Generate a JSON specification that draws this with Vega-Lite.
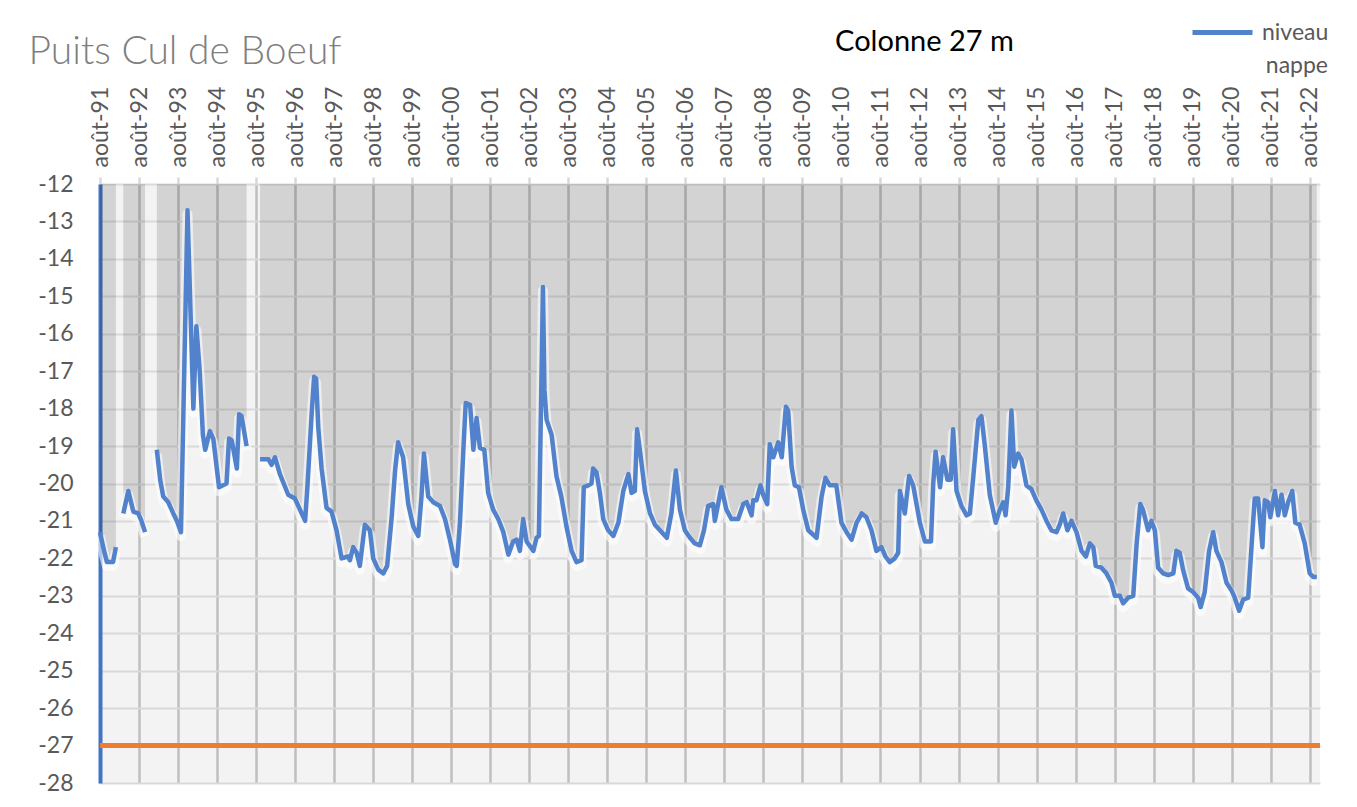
{
  "$schema": "https://vega.github.io/schema/vega-lite/v6.json",
  "width": 1220,
  "height": 599,
  "autosize": "none",
  "padding": {"left": 100, "top": 184, "right": 37, "bottom": 24},
  "background": "white",
  "config": {"view": {"fill": "#f3f3f3", "stroke": null}, "font": "Lato"},
  "data": {"values": [
    {"d": "1991-08-01", "v": -21.3}, {"d": "1991-09-08", "v": -21.8}, {"d": "1991-10-05", "v": -22.1}, {"d": "1991-12-01", "v": -22.1}, {"d": "1991-12-28", "v": -21.7},
    {"d": "1992-01-20", "v": null},
    {"d": "1992-03-06", "v": -20.8}, {"d": "1992-04-22", "v": -20.2}, {"d": "1992-06-08", "v": -20.75}, {"d": "1992-07-24", "v": -20.8}, {"d": "1992-08-23", "v": -21.0}, {"d": "1992-09-26", "v": -21.3},
    {"d": "1992-10-25", "v": null},
    {"d": "1993-01-14", "v": -19.1}, {"d": "1993-02-14", "v": -19.9}, {"d": "1993-03-15", "v": -20.35}, {"d": "1993-05-01", "v": -20.5}, {"d": "1993-06-17", "v": -20.8}, {"d": "1993-07-21", "v": -21.0}, {"d": "1993-08-28", "v": -21.3},
    {"d": "1993-10-28", "v": -12.7}, {"d": "1993-12-22", "v": -18.0}, {"d": "1994-01-19", "v": -15.8}, {"d": "1994-02-19", "v": -17.0}, {"d": "1994-03-21", "v": -18.7}, {"d": "1994-04-12", "v": -19.1},
    {"d": "1994-05-26", "v": -18.6}, {"d": "1994-06-26", "v": -18.8}, {"d": "1994-08-19", "v": -20.1}, {"d": "1994-10-28", "v": -20.0}, {"d": "1994-11-21", "v": -18.8}, {"d": "1994-12-16", "v": -18.85},
    {"d": "1995-02-02", "v": -19.6}, {"d": "1995-02-23", "v": -18.15}, {"d": "1995-03-18", "v": -18.2}, {"d": "1995-05-04", "v": -19.0},
    {"d": "1995-06-20", "v": null},
    {"d": "1995-09-07", "v": -19.35}, {"d": "1995-11-23", "v": -19.35}, {"d": "1995-12-24", "v": -19.5}, {"d": "1996-01-25", "v": -19.3}, {"d": "1996-03-11", "v": -19.75}, {"d": "1996-05-28", "v": -20.3},
    {"d": "1996-07-29", "v": -20.4}, {"d": "1996-09-15", "v": -20.7}, {"d": "1996-11-02", "v": -21.0}, {"d": "1996-11-23", "v": -20.1}, {"d": "1997-01-03", "v": -18.1}, {"d": "1997-01-25", "v": -17.15},
    {"d": "1997-02-13", "v": -17.2}, {"d": "1997-03-05", "v": -18.5}, {"d": "1997-04-05", "v": -19.6}, {"d": "1997-05-21", "v": -20.65}, {"d": "1997-07-07", "v": -20.75}, {"d": "1997-08-23", "v": -21.25},
    {"d": "1997-10-09", "v": -22.0}, {"d": "1997-12-10", "v": -21.95}, {"d": "1997-12-26", "v": -22.05}, {"d": "1998-01-26", "v": -21.7}, {"d": "1998-02-27", "v": -21.85}, {"d": "1998-03-29", "v": -22.2},
    {"d": "1998-05-15", "v": -21.1}, {"d": "1998-07-01", "v": -21.25}, {"d": "1998-08-01", "v": -22.0}, {"d": "1998-09-18", "v": -22.3}, {"d": "1998-11-04", "v": -22.4}, {"d": "1998-12-10", "v": -22.2},
    {"d": "1999-01-21", "v": -20.9}, {"d": "1999-02-22", "v": -19.65}, {"d": "1999-03-22", "v": -18.9}, {"d": "1999-05-08", "v": -19.3}, {"d": "1999-06-25", "v": -20.55}, {"d": "1999-08-11", "v": -21.15},
    {"d": "1999-09-27", "v": -21.4}, {"d": "1999-10-27", "v": -20.35}, {"d": "1999-11-19", "v": -19.2}, {"d": "1999-12-29", "v": -20.35}, {"d": "2000-02-15", "v": -20.5}, {"d": "2000-04-17", "v": -20.6},
    {"d": "2000-06-03", "v": -20.95}, {"d": "2000-07-19", "v": -21.5}, {"d": "2000-09-05", "v": -22.15}, {"d": "2000-09-21", "v": -22.2}, {"d": "2000-10-21", "v": -21.05}, {"d": "2000-11-22", "v": -19.1},
    {"d": "2000-12-14", "v": -17.85}, {"d": "2001-01-24", "v": -17.9}, {"d": "2001-02-24", "v": -19.1}, {"d": "2001-03-26", "v": -18.25}, {"d": "2001-04-26", "v": -19.05}, {"d": "2001-06-06", "v": -19.1},
    {"d": "2001-07-12", "v": -20.25}, {"d": "2001-08-28", "v": -20.7}, {"d": "2001-10-15", "v": -20.95}, {"d": "2001-12-01", "v": -21.3}, {"d": "2002-01-17", "v": -21.9}, {"d": "2002-03-03", "v": -21.55},
    {"d": "2002-04-04", "v": -21.5}, {"d": "2002-05-05", "v": -21.8}, {"d": "2002-06-05", "v": -20.95}, {"d": "2002-07-07", "v": -21.55}, {"d": "2002-09-08", "v": -21.8}, {"d": "2002-10-08", "v": -21.45},
    {"d": "2002-10-30", "v": -21.4}, {"d": "2002-12-07", "v": -14.75}, {"d": "2002-12-21", "v": -17.5}, {"d": "2003-01-10", "v": -18.3}, {"d": "2003-02-26", "v": -18.7}, {"d": "2003-04-12", "v": -19.8},
    {"d": "2003-05-28", "v": -20.35}, {"d": "2003-07-15", "v": -21.15}, {"d": "2003-09-01", "v": -21.8}, {"d": "2003-10-17", "v": -22.1}, {"d": "2003-12-03", "v": -22.05}, {"d": "2003-12-24", "v": -20.1},
    {"d": "2004-02-04", "v": -20.05}, {"d": "2004-03-05", "v": -20.0}, {"d": "2004-03-20", "v": -19.6}, {"d": "2004-04-21", "v": -19.7}, {"d": "2004-05-23", "v": -20.25}, {"d": "2004-06-23", "v": -20.95},
    {"d": "2004-08-09", "v": -21.25}, {"d": "2004-09-26", "v": -21.4}, {"d": "2004-11-12", "v": -21.05}, {"d": "2004-12-28", "v": -20.2}, {"d": "2005-02-14", "v": -19.75}, {"d": "2005-03-15", "v": -20.25},
    {"d": "2005-04-15", "v": -20.2}, {"d": "2005-05-06", "v": -18.55}, {"d": "2005-06-01", "v": -19.1}, {"d": "2005-07-18", "v": -20.2}, {"d": "2005-09-04", "v": -20.8}, {"d": "2005-10-20", "v": -21.1},
    {"d": "2005-12-06", "v": -21.25}, {"d": "2006-02-08", "v": -21.45}, {"d": "2006-03-23", "v": -20.8}, {"d": "2006-05-04", "v": -19.65}, {"d": "2006-06-11", "v": -20.7}, {"d": "2006-07-27", "v": -21.25},
    {"d": "2006-09-13", "v": -21.45}, {"d": "2006-10-29", "v": -21.6}, {"d": "2006-12-15", "v": -21.65}, {"d": "2007-01-22", "v": -21.25}, {"d": "2007-03-02", "v": -20.6}, {"d": "2007-04-18", "v": -20.55},
    {"d": "2007-05-04", "v": -21.0}, {"d": "2007-07-04", "v": -20.1}, {"d": "2007-08-20", "v": -20.7}, {"d": "2007-10-07", "v": -20.95}, {"d": "2007-12-08", "v": -20.95}, {"d": "2008-01-25", "v": -20.55},
    {"d": "2008-02-26", "v": -20.5}, {"d": "2008-04-12", "v": -20.85}, {"d": "2008-04-27", "v": -20.45}, {"d": "2008-05-27", "v": -20.45}, {"d": "2008-07-04", "v": -20.05}, {"d": "2008-07-29", "v": -20.3},
    {"d": "2008-09-05", "v": -20.55}, {"d": "2008-09-29", "v": -18.95}, {"d": "2008-11-01", "v": -19.3}, {"d": "2008-12-17", "v": -18.9}, {"d": "2009-01-19", "v": -19.3}, {"d": "2009-02-27", "v": -17.95},
    {"d": "2009-03-20", "v": -18.05}, {"d": "2009-04-21", "v": -19.55}, {"d": "2009-05-21", "v": -20.05}, {"d": "2009-06-29", "v": -20.1}, {"d": "2009-08-08", "v": -20.7}, {"d": "2009-09-24", "v": -21.25},
    {"d": "2009-12-11", "v": -21.45}, {"d": "2010-01-27", "v": -20.35}, {"d": "2010-03-04", "v": -19.85}, {"d": "2010-04-14", "v": -20.05}, {"d": "2010-06-14", "v": -20.05}, {"d": "2010-08-01", "v": -21.05},
    {"d": "2010-09-18", "v": -21.3}, {"d": "2010-11-04", "v": -21.5}, {"d": "2010-12-20", "v": -21.05}, {"d": "2011-02-07", "v": -20.8}, {"d": "2011-03-23", "v": -20.9}, {"d": "2011-05-09", "v": -21.25},
    {"d": "2011-06-24", "v": -21.8}, {"d": "2011-08-10", "v": -21.7}, {"d": "2011-09-17", "v": -21.95}, {"d": "2011-10-27", "v": -22.1}, {"d": "2011-12-13", "v": -22.0}, {"d": "2012-01-14", "v": -21.85},
    {"d": "2012-01-30", "v": -20.2}, {"d": "2012-03-16", "v": -20.8}, {"d": "2012-04-25", "v": -19.8}, {"d": "2012-06-02", "v": -20.05}, {"d": "2012-08-04", "v": -21.05}, {"d": "2012-09-20", "v": -21.55},
    {"d": "2012-11-16", "v": -21.55}, {"d": "2012-12-07", "v": -20.0}, {"d": "2012-12-29", "v": -19.15}, {"d": "2013-02-09", "v": -20.1}, {"d": "2013-03-09", "v": -19.3}, {"d": "2013-04-19", "v": -19.9},
    {"d": "2013-05-20", "v": -19.9}, {"d": "2013-06-11", "v": -18.55}, {"d": "2013-07-13", "v": -20.2}, {"d": "2013-08-28", "v": -20.6}, {"d": "2013-10-15", "v": -20.85}, {"d": "2013-11-15", "v": -20.8},
    {"d": "2013-12-16", "v": -19.85}, {"d": "2014-02-02", "v": -18.3}, {"d": "2014-03-03", "v": -18.2}, {"d": "2014-04-04", "v": -19.0}, {"d": "2014-05-20", "v": -20.3}, {"d": "2014-07-15", "v": -21.05},
    {"d": "2014-08-22", "v": -20.7}, {"d": "2014-09-23", "v": -20.5}, {"d": "2014-10-15", "v": -20.85}, {"d": "2014-11-09", "v": -20.1}, {"d": "2014-12-09", "v": -18.05}, {"d": "2015-01-04", "v": -19.55},
    {"d": "2015-02-10", "v": -19.2}, {"d": "2015-03-12", "v": -19.35}, {"d": "2015-04-28", "v": -20.05}, {"d": "2015-06-14", "v": -20.15}, {"d": "2015-07-30", "v": -20.45}, {"d": "2015-09-16", "v": -20.7},
    {"d": "2015-11-02", "v": -21.0}, {"d": "2015-12-18", "v": -21.25}, {"d": "2016-02-04", "v": -21.3}, {"d": "2016-03-05", "v": -21.1}, {"d": "2016-04-06", "v": -20.8}, {"d": "2016-05-16", "v": -21.25},
    {"d": "2016-06-23", "v": -21.0}, {"d": "2016-08-09", "v": -21.3}, {"d": "2016-09-25", "v": -21.8}, {"d": "2016-11-05", "v": -21.95}, {"d": "2016-12-12", "v": -21.6}, {"d": "2017-01-13", "v": -21.7},
    {"d": "2017-02-05", "v": -22.2}, {"d": "2017-03-30", "v": -22.25}, {"d": "2017-05-16", "v": -22.4}, {"d": "2017-07-02", "v": -22.65}, {"d": "2017-08-03", "v": -23.0}, {"d": "2017-09-19", "v": -23.0},
    {"d": "2017-10-20", "v": -23.2}, {"d": "2017-12-05", "v": -23.05}, {"d": "2018-01-22", "v": -23.0}, {"d": "2018-02-23", "v": -21.6}, {"d": "2018-03-29", "v": -20.55}, {"d": "2018-04-23", "v": -20.7},
    {"d": "2018-06-10", "v": -21.25}, {"d": "2018-07-11", "v": -21.0}, {"d": "2018-08-12", "v": -21.25}, {"d": "2018-09-12", "v": -22.25}, {"d": "2018-10-28", "v": -22.4}, {"d": "2018-12-15", "v": -22.45},
    {"d": "2019-02-01", "v": -22.4}, {"d": "2019-03-02", "v": -21.8}, {"d": "2019-04-02", "v": -21.85}, {"d": "2019-05-03", "v": -22.3}, {"d": "2019-06-19", "v": -22.8}, {"d": "2019-08-05", "v": -22.9},
    {"d": "2019-09-21", "v": -23.05}, {"d": "2019-10-15", "v": -23.3}, {"d": "2019-11-22", "v": -22.9}, {"d": "2020-01-02", "v": -21.8}, {"d": "2020-02-09", "v": -21.3}, {"d": "2020-03-10", "v": -21.8},
    {"d": "2020-04-27", "v": -22.1}, {"d": "2020-06-13", "v": -22.65}, {"d": "2020-07-29", "v": -22.85}, {"d": "2020-08-29", "v": -23.05}, {"d": "2020-10-09", "v": -23.4}, {"d": "2020-11-16", "v": -23.1},
    {"d": "2021-01-02", "v": -23.05}, {"d": "2021-02-04", "v": -21.6}, {"d": "2021-03-04", "v": -20.4}, {"d": "2021-04-05", "v": -20.4}, {"d": "2021-05-15", "v": -21.7}, {"d": "2021-06-06", "v": -20.45},
    {"d": "2021-07-07", "v": -20.5}, {"d": "2021-07-28", "v": -20.9}, {"d": "2021-09-09", "v": -20.2}, {"d": "2021-10-09", "v": -20.85}, {"d": "2021-11-10", "v": -20.3}, {"d": "2021-12-11", "v": -20.85},
    {"d": "2022-01-11", "v": -20.5}, {"d": "2022-02-18", "v": -20.2}, {"d": "2022-03-19", "v": -21.05}, {"d": "2022-04-28", "v": -21.1}, {"d": "2022-06-15", "v": -21.6}, {"d": "2022-08-01", "v": -22.4},
    {"d": "2022-09-02", "v": -22.5}, {"d": "2022-10-06", "v": -22.5}
  ]},
  "encoding": {
    "x": {
      "field": "d", "type": "temporal",
      "scale": {"domain": [{"year": 1991, "month": 8, "date": 1}, {"year": 2022, "month": 11, "date": 5}], "nice": false},
      "axis": {
        "orient": "top",
        "values": [
          {"year": 1991, "month": 8, "date": 1}, {"year": 1992, "month": 8, "date": 1}, {"year": 1993, "month": 8, "date": 1}, {"year": 1994, "month": 8, "date": 1},
          {"year": 1995, "month": 8, "date": 1}, {"year": 1996, "month": 8, "date": 1}, {"year": 1997, "month": 8, "date": 1}, {"year": 1998, "month": 8, "date": 1},
          {"year": 1999, "month": 8, "date": 1}, {"year": 2000, "month": 8, "date": 1}, {"year": 2001, "month": 8, "date": 1}, {"year": 2002, "month": 8, "date": 1},
          {"year": 2003, "month": 8, "date": 1}, {"year": 2004, "month": 8, "date": 1}, {"year": 2005, "month": 8, "date": 1}, {"year": 2006, "month": 8, "date": 1},
          {"year": 2007, "month": 8, "date": 1}, {"year": 2008, "month": 8, "date": 1}, {"year": 2009, "month": 8, "date": 1}, {"year": 2010, "month": 8, "date": 1},
          {"year": 2011, "month": 8, "date": 1}, {"year": 2012, "month": 8, "date": 1}, {"year": 2013, "month": 8, "date": 1}, {"year": 2014, "month": 8, "date": 1},
          {"year": 2015, "month": 8, "date": 1}, {"year": 2016, "month": 8, "date": 1}, {"year": 2017, "month": 8, "date": 1}, {"year": 2018, "month": 8, "date": 1},
          {"year": 2019, "month": 8, "date": 1}, {"year": 2020, "month": 8, "date": 1}, {"year": 2021, "month": 8, "date": 1}, {"year": 2022, "month": 8, "date": 1}
        ],
        "labelExpr": "'août-' + timeFormat(datum.value, '%y')",
        "labelAngle": -90, "labelAlign": "left", "labelBaseline": "middle",
        "labelFontSize": 23, "labelColor": "#595959", "labelPadding": 10,
        "labelOverlap": false, "labelFlush": false, "labelBound": false,
        "tickSize": 7, "tickColor": "#d9d9d9", "tickWidth": 2.5,
        "domain": false,
        "grid": true, "gridColor": "#bfbfbf", "gridWidth": 2.5,
        "title": "Colonne 27 m", "titleX": 824, "titleY": -134,
        "titleAlign": "center", "titleBaseline": "alphabetic", "titleAngle": 0,
        "titleFontSize": 29, "titleFontWeight": "normal", "titleColor": "#000000"
      }
    },
    "y": {
      "field": "v", "type": "quantitative",
      "scale": {"domain": [-28, -12], "nice": false, "zero": false},
      "axis": {
        "values": [-12, -13, -14, -15, -16, -17, -18, -19, -20, -21, -22, -23, -24, -25, -26, -27, -28],
        "labelExpr": "toString(datum.value)",
        "labelFontSize": 23, "labelColor": "#595959", "labelPadding": 27, "labelFlush": false,
        "ticks": false,
        "domainColor": "#4472c4", "domainWidth": 4,
        "grid": true, "gridColor": "#d9d9d9", "gridWidth": 2,
        "title": "Puits Cul de Boeuf", "titleAngle": 0, "titleX": -72, "titleY": -121,
        "titleAlign": "left", "titleBaseline": "alphabetic",
        "titleFontSize": 39, "titleFontWeight": 300, "titleColor": "#7f7f7f"
      }
    }
  },
  "layer": [
    {
      "mark": {"type": "area", "color": "#000000", "opacity": 0.13, "invalid": "break-paths-show-domains"},
      "encoding": {"y2": {"datum": -12}}
    },
    {
      "mark": {"type": "rule", "color": "#ed7d31", "strokeWidth": 4.5},
      "encoding": {"x": null, "y": {"datum": -27}}
    },
    {
      "mark": {"type": "line", "color": "#ffffff", "strokeWidth": 10, "opacity": 0.6, "yOffset": 4, "strokeJoin": "round", "invalid": "break-paths-show-domains"},
      "encoding": {}
    },
    {
      "mark": {"type": "line", "strokeWidth": 4.5, "strokeJoin": "round", "invalid": "break-paths-show-domains"},
      "encoding": {
        "color": {
          "datum": "niveau nappe",
          "scale": {"range": ["#5282cc"]},
          "legend": {
            "orient": "none", "legendX": 1090, "legendY": -184,
            "title": "nappe", "titleOrient": "bottom", "titleAnchor": "end",
            "titleFontSize": 23, "titleFontWeight": "normal", "titleColor": "#595959", "titlePadding": 10,
            "symbolType": "stroke", "symbolSize": 3600, "symbolStrokeWidth": 5,
            "labelFontSize": 23, "labelColor": "#595959", "labelOffset": 7,
            "labelExpr": "'niveau'"
          }
        }
      }
    }
  ]
}
